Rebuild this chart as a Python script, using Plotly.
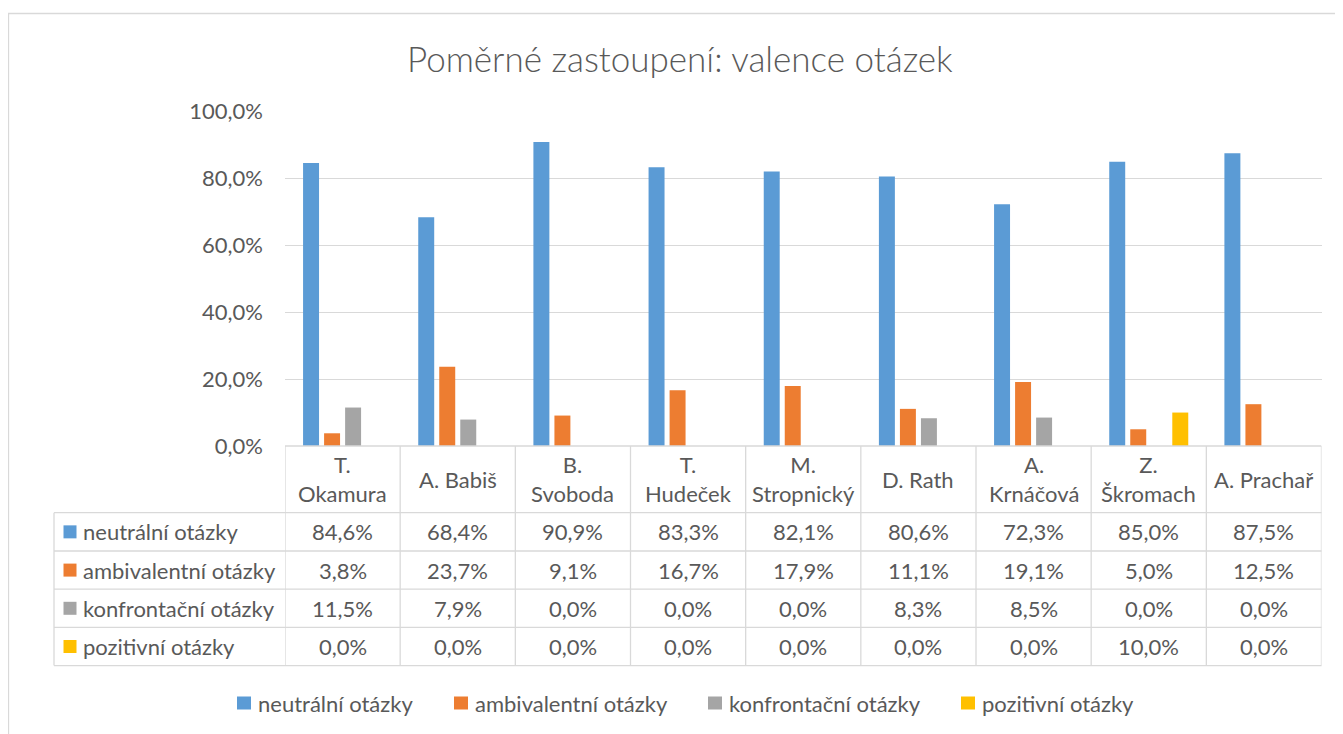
import plotly.graph_objects as go

categories = ["T.<br>Okamura", "A. Babiš", "B.<br>Svoboda", "T.<br>Hudeček", "M.<br>Stropnický",
              "D. Rath", "A.<br>Krnáčová", "Z.<br>Škromach", "A. Prachař"]
series_names = ["neutrální otázky", "ambivalentní otázky", "konfrontační otázky", "pozitivní otázky"]
neutralni = [84.6, 68.4, 90.9, 83.3, 82.1, 80.6, 72.3, 85.0, 87.5]
ambivalentni = [3.8, 23.7, 9.1, 16.7, 17.9, 11.1, 19.1, 5.0, 12.5]
konfrontacni = [11.5, 7.9, 0.0, 0.0, 0.0, 8.3, 8.5, 0.0, 0.0]
pozitivni = [0.0, 0.0, 0.0, 0.0, 0.0, 0.0, 0.0, 10.0, 0.0]
y_ticks = [0, 20, 40, 60, 80, 100]
title_text = "Poměrné zastoupení: valence otázek"

colors = ["#5B9BD5", "#ED7D31", "#A5A5A5", "#FFC000"]
series_values = [neutralni, ambivalentni, konfrontacni, pozitivni]

W, H = 1343, 734
OFF = 8  # page body margin
FONT = "Lato"
TXT = "#595959"
GRID = "#D9D9D9"


def px(x):
    return (x - OFF) / W


def py(y):
    return (H - (y - OFF)) / H


def fmt(v):
    return f"{v:.1f}".replace(".", ",") + "%"


# geometry (pixels, in the screenshot)
plot_left, plot_right = 285, 1321.5
plot_top, plot_bottom = 111.5, 446
table_left = 54
row_lines = [512.7, 551.0, 589.2, 627.4, 665.6]
legend_keys_x = [237, 454, 708, 961]
legend_y = 703

fig = go.Figure()
for name, vals, c in zip(series_names, series_values, colors):
    fig.add_trace(go.Bar(name=name, x=list(range(len(categories))), y=vals, marker_color=c,
                         marker_line_width=0, hoverinfo="skip", showlegend=False))

shapes = []
annotations = []
n = len(categories)
LW = 1.3

# outer chart border
shapes.append(dict(type="rect", xref="paper", yref="paper", x0=px(8.5), x1=px(1400), y0=py(800), y1=py(13.5),
                   line=dict(color=GRID, width=LW), fillcolor="rgba(0,0,0,0)", layer="below"))

# table horizontal lines
shapes.append(dict(type="line", xref="x", yref="paper", x0=-0.5, x1=n - 0.5, y0=py(plot_bottom), y1=py(plot_bottom),
                   line=dict(color=GRID, width=LW)))
for yl in row_lines:
    shapes.append(dict(type="line", xref="paper", yref="paper", x0=px(table_left), x1=px(plot_right),
                       y0=py(yl), y1=py(yl), line=dict(color=GRID, width=LW)))
# vertical lines
shapes.append(dict(type="line", xref="paper", yref="paper", x0=px(table_left), x1=px(table_left),
                   y0=py(row_lines[0]), y1=py(row_lines[-1]), line=dict(color=GRID, width=LW)))
for k in range(n + 1):
    shapes.append(dict(type="line", xref="x", yref="paper", x0=k - 0.5, x1=k - 0.5,
                       y0=py(plot_bottom), y1=py(row_lines[-1]), line=dict(color=GRID, width=LW)))

FS = 22
# header labels
for i, cat in enumerate(categories):
    annotations.append(dict(x=i, y=py((plot_bottom + row_lines[0]) / 2), xref="x", yref="paper", text=cat,
                            showarrow=False, xanchor="center", yanchor="middle",
                            font=dict(family=FONT, size=FS, color=TXT)))

# rows
for r, (name, vals, c) in enumerate(zip(series_names, series_values, colors)):
    yc = (row_lines[r] + row_lines[r + 1]) / 2
    shapes.append(dict(type="rect", xref="paper", yref="paper", x0=px(63.5), x1=px(76.5),
                       y0=py(yc + 6.5), y1=py(yc - 6.5), fillcolor=c, line=dict(width=0)))
    annotations.append(dict(x=px(81), y=py(yc), xref="paper", yref="paper", text=name, showarrow=False,
                            xanchor="left", yanchor="middle", font=dict(family=FONT, size=FS, color=TXT)))
    for i, v in enumerate(vals):
        annotations.append(dict(x=i, y=py(yc), xref="x", yref="paper", text=fmt(v), showarrow=False,
                                xanchor="center", yanchor="middle", font=dict(family=FONT, size=FS, color=TXT)))

# legend (drawn as keys + labels)
for name, c, lx in zip(series_names, colors, legend_keys_x):
    shapes.append(dict(type="rect", xref="paper", yref="paper", x0=px(lx), x1=px(lx + 14),
                       y0=py(legend_y + 6.5), y1=py(legend_y - 6.5), fillcolor=c, line=dict(width=0)))
    annotations.append(dict(x=px(lx + 19), y=py(legend_y), xref="paper", yref="paper", text=name,
                            showarrow=False, xanchor="left", yanchor="middle",
                            font=dict(family=FONT, size=FS, color=TXT)))

annotations.append(dict(x=px(680), y=py(58), xref="paper", yref="paper", text=title_text, showarrow=False,
                        xanchor="center", yanchor="middle",
                        font=dict(family=FONT, size=35, color=TXT, weight=300)))

fig.update_layout(
    width=W, height=H,
    margin=dict(l=0, r=0, t=0, b=0, autoexpand=False),
    paper_bgcolor="white", plot_bgcolor="white",
    separators=", ",
    barmode="group", bargap=0.27, bargroupgap=0.24,
    font=dict(family=FONT, color=TXT),
    xaxis=dict(domain=[px(plot_left), px(plot_right)], range=[-0.5, n - 0.5], showticklabels=False,
               showgrid=False, zeroline=False, showline=False, ticks="", fixedrange=True, automargin=False),
    yaxis=dict(domain=[py(plot_bottom), py(plot_top)], range=[0, 100], tickvals=y_ticks,
               ticktext=[fmt(v) for v in y_ticks], showgrid=True, gridcolor=GRID, gridwidth=LW,
               zeroline=False, showline=False, ticks="", ticklabelstandoff=21, automargin=False,
               tickfont=dict(family=FONT, size=FS, color=TXT), fixedrange=True),
    showlegend=False,
    shapes=shapes, annotations=annotations,
)

fig.write_html("out.html")
